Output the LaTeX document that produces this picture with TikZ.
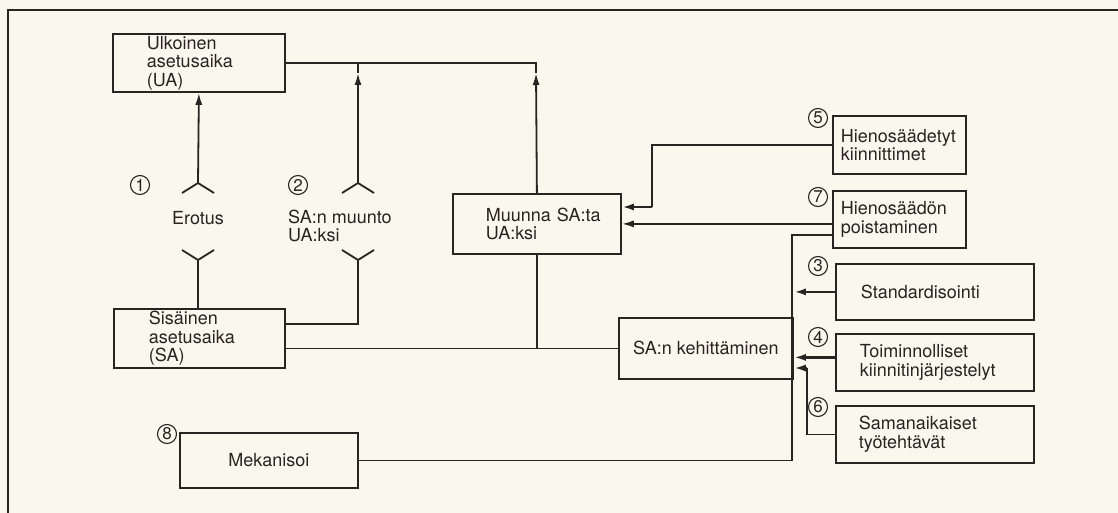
\documentclass[tikz,border=0pt]{standalone}
\usepackage{fontspec}
\setmainfont{TeX Gyre Heros}
\usetikzlibrary{arrows.meta}
\definecolor{bg}{RGB}{250,247,236}
\definecolor{ink}{RGB}{40,36,34}
\begin{document}
\begin{tikzpicture}[x=1pt,y=-1pt,
  every node/.style={text=ink},
  ln/.style={draw=ink, line width=1.8pt},
  arr/.style={ln, -{Latex[length=12pt,width=7pt]}},
  arrt/.style={draw=ink, line width=2.4pt, -{Latex[length=12pt,width=7pt]}},
  box/.style={draw=ink, line width=1.8pt, anchor=north west, inner ysep=0pt,
    align=left, font=\fontsize{18}{18.5}\selectfont},
  lbl/.style={inner sep=0pt, align=left, font=\fontsize{18}{18.5}\selectfont},
  num/.style={circle, draw=ink, line width=1.1pt, minimum size=19pt, inner sep=0pt,
    font=\fontsize{17}{17}\selectfont}
]
\fill[bg] (0,0) rectangle (1118,513);
\useasboundingbox (0,0) rectangle (1118,513);
% frame
\draw[draw=ink, line width=2pt] (8,513) -- (8,10) -- (1118,10);

% boxes
\node[box, minimum width=172pt, minimum height=58pt, inner xsep=34pt, text width=104pt] (ua) at (112,33) {Ulkoinen\\asetusaika\\(UA)};
\node[box, minimum width=171pt, minimum height=59pt, inner xsep=35pt, text width=101pt] (sa) at (113,308) {Sisäinen\\asetusaika\\(SA)};
\node[box, minimum width=168pt, minimum height=60pt, inner xsep=33pt, text width=102pt] (muunna) at (452,193) {Muunna~SA:ta\\UA:ksi};
\node[box, minimum width=133pt, minimum height=58pt, inner xsep=8pt, text width=117pt] (h5) at (832,115) {Hienosäädetyt\\kiinnittimet};
\node[box, minimum width=133pt, minimum height=57pt, inner xsep=8pt, text width=117pt] (h7) at (832,190) {Hienosäädön\\poistaminen};
\node[box, minimum width=198pt, minimum height=56pt, inner xsep=25pt, text width=148pt] (std) at (835,263) {Standardisointi};
\node[box, minimum width=198pt, minimum height=57pt, inner xsep=24pt, text width=150pt] (toim) at (835,333) {Toiminnolliset\\kiinnitinjärjestelyt};
\node[box, minimum width=198pt, minimum height=57pt, inner xsep=23pt, text width=152pt] (sam) at (835,405) {Samanaikaiset\\työtehtävät};
\node[box, minimum width=174pt, minimum height=61pt] (keh) at (618,317) {SA:n kehittäminen};
\node[box, minimum width=178pt, minimum height=55pt] (mek) at (179,432) {Mekanisoi};

% free labels
\node[lbl] (erotus) at (198,218) {Erotus};
\node[lbl, anchor=west] (muunto) at (288,226) {SA:n muunto\\UA:ksi};

% numbers
\node[num] (n1) at (140,185) {1};
\node[num] (n2) at (298,185) {2};
\node[num] (n3) at (818,266) {3};
\node[num] (n4) at (818,337) {4};
\node[num] (n5) at (818,118) {5};
\node[num] (n6) at (818,407) {6};
\node[num] (n7) at (818,197) {7};
\node[num] (n8) at (167,434) {8};

% fork points
\coordinate (f1u) at (198,183);
\coordinate (f1d) at (198,260);
\coordinate (f2u) at (358,183);
\coordinate (f2d) at (358,260);
\coordinate (a2) at (358,73);
\coordinate (a3) at (536,73);
\coordinate (c2) at (358,324);
\coordinate (c5) at (652,207);
\coordinate (bt) at (792,235);
\coordinate (c6) at (807,368);

% forks
\draw[ln] ([shift={(-16,10)}]f1u) -- (f1u) -- ([shift={(16,10)}]f1u);
\draw[ln] ([shift={(-16,10)}]f2u) -- (f2u) -- ([shift={(16,10)}]f2u);
\draw[ln] ([shift={(-16,-10)}]f1d) -- (f1d) -- ([shift={(16,-10)}]f1d);
\draw[ln] ([shift={(-16,-10)}]f2d) -- (f2d) -- ([shift={(16,-10)}]f2d);

% connectors
\draw[arr] (f1u) -- (ua.south);
\draw[arr] (f2u) -- (a2);
\draw[ln] (a2) -- (a2 |- ua.east);
\draw[arr] (muunna.north) -- (a3);
\draw[ln] (a3) -- (a3 |- ua.east) -- (ua.east);
\draw[ln] (f1d) -- (f1d |- sa.north);
\draw[ln] (f2d) -- (c2) -- (c2 -| sa.east);
\draw[ln] (keh.west -| sa.east) -- (keh.west);
\draw[ln] (muunna.south) -- (muunna.south |- keh.west);
\draw[ln] (h5.west) -- (h5.west -| c5) -- (c5);
\draw[arrt] (c5) -- (c5 -| muunna.east);
\draw[arr] (muunna.east -| h7.west) -- (muunna.east);
\draw[ln] (bt -| h7.west) -- (bt) -- (bt |- mek.east) -- (mek.east);
\draw[arrt] (std.west) -- (std.west -| keh.east);
\draw[arrt] ([yshift=5pt]toim.west) -- ([yshift=5pt]toim.west -| keh.east);
\draw[ln] (sam.west) -- (sam.west -| c6) -- (c6);
\draw[arrt] (c6) -- (c6 -| keh.east);
\end{tikzpicture}
\end{document}
